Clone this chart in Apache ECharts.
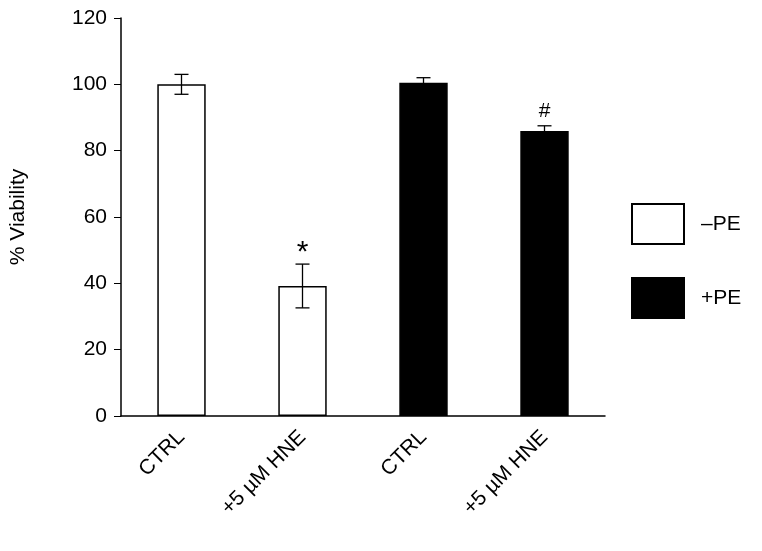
<!DOCTYPE html>
<html><head><meta charset="utf-8">
<script src="https://cdn.jsdelivr.net/npm/echarts@6/dist/echarts.min.js"></script>
<style>html,body{margin:0;background:#fff}#c{width:762px;height:551px}</style>
</head><body><div id="c"></div>
<script>
var categories = ['CTRL', '+5 µM HNE', 'CTRL', '+5 µM HNE'];
var minusPE = [100, 39.2, null, null];
var plusPE = [null, null, 100.5, 85.9];
var errors = [3, 6.6, 1.5, 1.6];
var marks = ['', '*', '', '#'];
var means = [100, 39.2, 100.5, 85.9];

var chart = echarts.init(document.getElementById('c'));
var font = 'Liberation Sans, Arial, sans-serif';

chart.setOption({
    animation: false,
    textStyle: { fontFamily: font },
    grid: { left: 121, right: 157, top: 18, bottom: 135 },
    legend: {
        orient: 'vertical', left: 626, top: 198, itemGap: 32,
        itemWidth: 52, itemHeight: 40, icon: 'rect',
        textStyle: { fontSize: 21, color: '#000', padding: [0, 0, 0, 12] },
        data: ['–PE', '+PE']
    },
    xAxis: {
        type: 'category', data: categories,
        axisLine: { lineStyle: { color: '#000', width: 1.5 } },
        axisTick: { length: 7, lineStyle: { color: '#000' } },
        axisLabel: { rotate: 45, fontSize: 21, color: '#000', margin: 18, interval: 0 }
    },
    yAxis: {
        type: 'value', min: 0, max: 120, interval: 20,
        name: '% Viability', nameLocation: 'middle', nameGap: 92,
        nameTextStyle: { fontSize: 21, color: '#000' },
        splitLine: { show: false },
        axisLine: { show: true, lineStyle: { color: '#000', width: 1.5 } },
        axisTick: { show: true, length: 7, lineStyle: { color: '#000' } },
        axisLabel: { fontSize: 21, color: '#000', margin: 14 }
    },
    series: [
        { name: '–PE', type: 'bar', data: minusPE, barWidth: '40%', barGap: '-100%',
          itemStyle: { color: '#fff', borderColor: '#000', borderWidth: 1.5 } },
        { name: '+PE', type: 'bar', data: plusPE, barWidth: '40%', barGap: '-100%',
          itemStyle: { color: '#000', borderColor: '#000', borderWidth: 1.5 } },
        {
            type: 'custom', z: 10,
            data: means.map(function (m, i) { return [i, m, errors[i], marks[i]]; }),
            renderItem: function (params, api) {
                var i = api.value(0), m = api.value(1), e = api.value(2);
                var top = api.coord([i, m + e]), bot = api.coord([i, m - e]);
                var half = 7;
                var style = { stroke: '#000', lineWidth: 1.3 };
                var mark = marks[i];
                var kids = [
                    { type: 'line', shape: { x1: top[0], y1: top[1], x2: bot[0], y2: bot[1] }, style: style },
                    { type: 'line', shape: { x1: top[0] - half, y1: top[1], x2: top[0] + half, y2: top[1] }, style: style },
                    { type: 'line', shape: { x1: bot[0] - half, y1: bot[1], x2: bot[0] + half, y2: bot[1] }, style: style }
                ];
                if (mark) {
                    kids.push({ type: 'text', x: top[0], y: mark === '*' ? top[1] + 4 : top[1] - 4,
                        style: { text: mark, fontSize: mark === '*' ? 30 : 21, fill: '#000',
                                 fontFamily: font, align: 'center', verticalAlign: 'bottom' } });
                }
                return { type: 'group', children: kids };
            }
        }
    ]
});
</script></body></html>
